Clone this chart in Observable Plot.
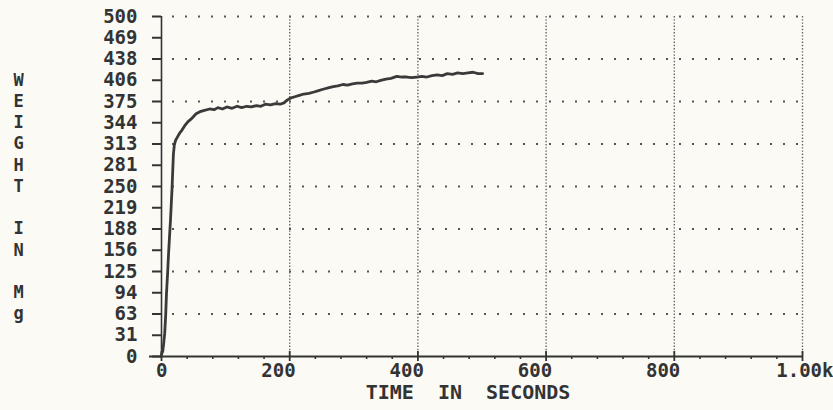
<!DOCTYPE html>
<html>
<head>
<meta charset="utf-8">
<script src="https://cdn.jsdelivr.net/npm/d3@7"></script>
<script src="https://cdn.jsdelivr.net/npm/@observablehq/plot@0.6"></script>
<style>
  html, body { margin: 0; padding: 0; background: #fbfaf4; }
  #chart svg { display: block; }
</style>
</head>
<body>
<div id="chart"></div>
<script>
// Weight (mg) vs time (s)
const timeSec = [0, 2, 3.5, 5, 6.5, 7.8, 9.5, 11, 12.5, 14, 15.3, 16.5, 17.6, 18.6, 20, 22, 25, 28, 32, 36, 41, 46, 50, 54, 60, 67, 75, 82, 88, 95, 102, 110, 118, 125, 133, 140, 148, 155, 162, 170, 178, 185, 191, 196, 201, 208, 215, 222, 230, 238, 245, 252, 260, 268, 275, 283, 290, 298, 305, 313, 320, 328, 335, 342, 350, 358, 367, 375, 383, 390, 398, 406, 414, 422, 430, 438, 446, 454, 462, 470, 478, 486, 494, 501];
const weightMg = [3, 8, 20, 34, 60, 93, 122, 151, 176, 200, 225, 248, 275, 298, 311, 318, 323, 328, 333, 339, 345, 349, 353, 357, 360, 362, 364, 363, 366, 364, 367, 365, 368, 366, 368, 367, 369, 368, 371, 370, 372, 371, 373, 377, 380, 382, 384, 386, 387, 389, 391, 393, 395, 397, 398, 400, 399, 401, 402, 402, 403, 405, 404, 406, 408, 409, 412, 411, 411, 410, 411, 412, 411, 413, 414, 413, 416, 415, 417, 416, 417, 418, 416, 416];

const yTicks = [0, 31.25, 62.5, 93.75, 125, 156.25, 187.5, 218.75, 250, 281.25, 312.5, 343.75, 375, 406.25, 437.5, 468.75, 500];
const yTickLabels = ["0", "31", "63", "94", "125", "156", "188", "219", "250", "281", "313", "344", "375", "406", "438", "469", "500"];
const yGrid = [62.5, 125, 187.5, 250, 312.5, 375, 437.5, 500];

const xTicks = [0, 200, 400, 600, 800, 1000];
const xTickLabels = ["0", "200", "400", "600", "800", "1.00k"];
const xMinor = [40, 80, 120, 160, 240, 280, 320, 360, 440, 480, 520, 560, 640, 680, 720, 760, 840, 880, 920, 960];
const xGrid = [200, 400, 600, 800, 1000];

const yLetters = ["W", "E", "I", "G", "H", "T", "I", "N", "M", "g"];
const yLetterPos = [406.25, 375, 343.75, 312.5, 281.25, 250, 187.5, 156.25, 93.75, 62.5];

const xTitle = "TIME\u00a0\u00a0IN\u00a0\u00a0SECONDS";

const data = timeSec.map((t, i) => ({t, w: weightMg[i]}));
const ink = "#333";
const font = "DejaVu Sans Mono";

const chart = Plot.plot({
  width: 833,
  height: 410,
  marginLeft: 161,
  marginRight: 31,
  marginTop: 16,
  marginBottom: 54,
  style: {background: "#fbfaf4", color: ink, fontFamily: font, fontWeight: "bold", fontSize: "19px"},
  x: {domain: [0, 1000], axis: null},
  y: {domain: [0, 500], axis: null},
  marks: [
    Plot.ruleY(yGrid, {stroke: "#555", strokeWidth: 2, strokeDasharray: "2,11", strokeDashoffset: -11}),
    Plot.ruleX(xGrid, {stroke: "#666", strokeWidth: 1.4, strokeDasharray: "1.4,1.8"}),
    Plot.ruleY([0], {stroke: ink, strokeWidth: 2, insetLeft: -12}),
    Plot.ruleX([0], {stroke: ink, strokeWidth: 1.6}),
    Plot.axisY(yTicks, {
      tickFormat: d => yTickLabels[yTicks.indexOf(d)],
      tickSize: 9, tickPadding: 15, label: null,
      strokeWidth: 2, fontSize: 19, fontWeight: "bold", fontFamily: font
    }),
    Plot.axisX(xMinor, {tickSize: 3, tickFormat: () => "", label: null, strokeWidth: 1.6}),
    Plot.axisX(xTicks, {tickSize: 10, dy: -5, tickFormat: () => "", label: null, strokeWidth: 1.8}),
    Plot.text(xTicks.slice(0, 5), {
      x: d => d, text: (d, i) => xTickLabels[i], frameAnchor: "bottom",
      textAnchor: "end", dx: 6, dy: 20, fontSize: 19, fontWeight: "bold", fontFamily: font, fill: ink
    }),
    Plot.text(xTicks.slice(5), {
      x: d => d, text: (d, i) => xTickLabels[5 + i], frameAnchor: "bottom",
      textAnchor: "end", dx: 31, dy: 20, fontSize: 19, fontWeight: "bold", fontFamily: font, fill: ink
    }),
    Plot.text([xTitle], {
      frameAnchor: "bottom", dx: -14, dy: 42, fontSize: 20, fontWeight: "bold", fontFamily: font, fill: ink
    }),
    Plot.text(yLetters, {
      y: (d, i) => yLetterPos[i], text: d => d, frameAnchor: "left", dx: -148,
      fontSize: 17, fontWeight: "bold", fontFamily: font, fill: ink
    }),
    Plot.line(data, {x: "t", y: "w", stroke: "#3a3a3a", strokeWidth: 2.8, strokeLinejoin: "round"})
  ]
});
document.getElementById("chart").appendChild(chart);
</script>
</body>
</html>
